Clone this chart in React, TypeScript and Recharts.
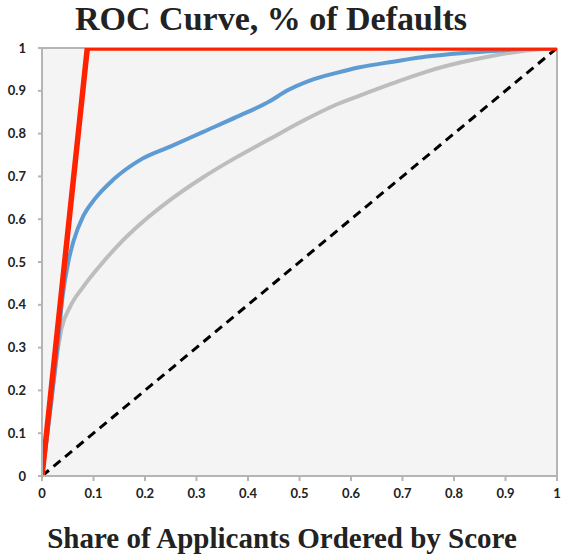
import { LineChart, Line, XAxis, YAxis, CartesianGrid, ReferenceLine } from 'recharts';

const TICKS = [0, 0.1, 0.2, 0.3, 0.4, 0.5, 0.6, 0.7, 0.8, 0.9, 1];

// perfect model
const perfect = [
  { x: 0, y: 0 },
  { x: 0.088, y: 1 },
  { x: 1, y: 1 },
];

// random model
const random = [
  { x: 0, y: 0 },
  { x: 1, y: 1 },
];

// blue score
const blueX = [0, 0.03, 0.04, 0.051, 0.061, 0.08, 0.103, 0.138, 0.19, 0.25, 0.313, 0.378, 0.443, 0.475, 0.52, 0.572, 0.617, 0.682, 0.747, 0.812, 0.876, 0.94, 1];
const blueY = [0, 0.3, 0.42, 0.5, 0.548, 0.607, 0.648, 0.692, 0.738, 0.77, 0.804, 0.839, 0.876, 0.9, 0.924, 0.942, 0.955, 0.968, 0.98, 0.988, 0.993, 0.998, 1];

// gray score
const grayX = [0, 0.02, 0.03, 0.038, 0.054, 0.08, 0.113, 0.151, 0.197, 0.249, 0.313, 0.378, 0.443, 0.507, 0.572, 0.617, 0.682, 0.747, 0.812, 0.876, 0.94, 1];
const grayY = [0, 0.2, 0.29, 0.345, 0.394, 0.442, 0.492, 0.543, 0.595, 0.645, 0.698, 0.745, 0.788, 0.83, 0.868, 0.889, 0.918, 0.945, 0.966, 0.982, 0.994, 1];

const blue = blueX.map((x, i) => ({ x, y: blueY[i] }));
const gray = grayX.map((x, i) => ({ x, y: grayY[i] }));

const tickStyle = { fontFamily: 'Lato, "Open Sans", sans-serif', fontWeight: 700, fontSize: 13, fill: '#222' };

const serif = '"Liberation Serif", "Times New Roman", serif';

export default function App() {
  return (
    <div style={{ position: 'absolute', left: 0, top: 0, width: 564, height: 559, background: '#fff' }}>
      <div
        style={{
          position: 'absolute',
          left: 0,
          top: 0,
          width: 542,
          textAlign: 'center',
          fontFamily: serif,
          fontWeight: 700,
          fontSize: 34,
          lineHeight: '38px',
          color: '#222',
          whiteSpace: 'nowrap',
        }}
      >
        ROC Curve, % of Defaults
      </div>
      <LineChart width={564} height={559} data={random} margin={{ top: 48, right: 7, bottom: 53, left: 0 }}>
        <CartesianGrid fill="#f4f4f4" horizontal={false} vertical={false} />
        <XAxis
          dataKey="x"
          type="number"
          domain={[0, 1]}
          ticks={TICKS}
          tick={tickStyle}
          tickSize={5}
          tickMargin={8}
          height={30}
          stroke="#b5b5b5"
          strokeWidth={2}
          allowDataOverflow
        />
        <YAxis
          dataKey="y"
          type="number"
          domain={[0, 1]}
          ticks={TICKS}
          tick={tickStyle}
          tickSize={4}
          tickMargin={12}
          width={42}
          stroke="#b5b5b5"
          strokeWidth={2}
          allowDataOverflow
        />
        <ReferenceLine x={1} stroke="#b5b5b5" strokeWidth={2} />
        <ReferenceLine y={1} stroke="#b5b5b5" strokeWidth={2} />
        <Line data={gray} dataKey="y" type="monotone" stroke="#bdbdbd" strokeWidth={4} dot={false} isAnimationActive={false} />
        <Line data={blue} dataKey="y" type="monotone" stroke="#5e9bd3" strokeWidth={4} dot={false} isAnimationActive={false} />
        <Line data={random} dataKey="y" type="linear" stroke="#000" strokeWidth={3} strokeDasharray="9 6" dot={false} isAnimationActive={false} />
        <Line data={perfect} dataKey="y" type="linear" stroke="#ff2200" strokeWidth={5.5} dot={false} isAnimationActive={false} />
      </LineChart>
      <div
        style={{
          position: 'absolute',
          left: 0,
          top: 523,
          width: 564,
          textAlign: 'center',
          fontFamily: serif,
          fontWeight: 700,
          fontSize: 29,
          lineHeight: '30px',
          color: '#222',
          whiteSpace: 'nowrap',
        }}
      >
        Share of Applicants Ordered by Score
      </div>
    </div>
  );
}
